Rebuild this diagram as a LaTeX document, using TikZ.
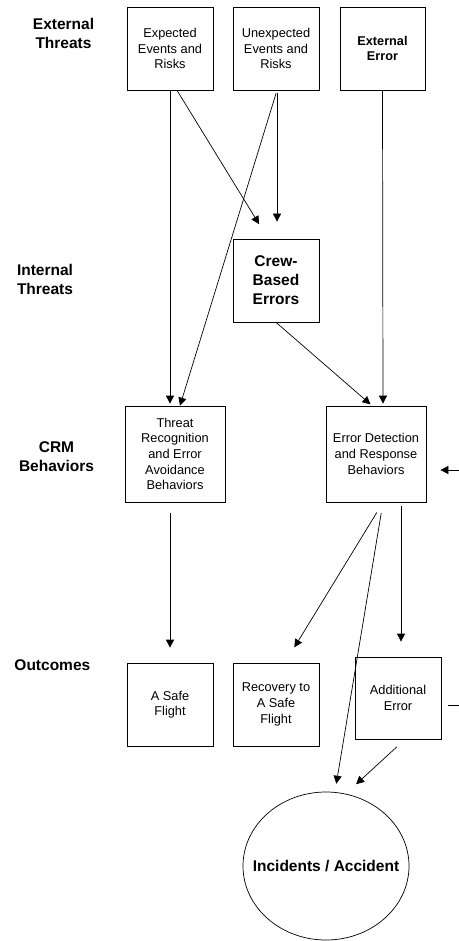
\documentclass[tikz,border=0pt]{standalone}
\usepackage{fontspec}
\setmainfont{Liberation Sans}
\usepackage{tikz}
\usetikzlibrary{calc, arrows.meta, shapes.geometric}

\begin{document}
\begin{tikzpicture}[x=1pt, y=-1pt, >={Triangle[length=8pt,width=8pt]}, line width=.7pt,
		boxnode/.style={draw, align=center, inner sep=0pt, minimum width=86pt, minimum height=83pt, font=\fontsize{12.8}{15.6}\selectfont},
		widebox/.style={boxnode, minimum width=100pt, minimum height=96pt}]
	\useasboundingbox (0,0) rectangle (458,941);
		% row labels
		\foreach \x/\y/\alph/\name in {
			63.5/33/lext/{External\\Threats},
			45/279/lint/{Internal\\Threats},
			56.5/457/lcrm/{CRM\\Behaviors},
			54.5/665/lout/{Outcomes}
		 }{
		 	\node[align=center, font=\fontsize{15.5}{19}\selectfont\bfseries] (\alph) at (\x,\y) {\name};
		 }
		 % boxes
		 \node[boxnode] (exp) at (170,48.5) {Expected\\Events and\\Risks};
		 \node[boxnode] (unexp) at (276,48.5) {Unexpected\\Events and\\Risks};
		 \node[boxnode, minimum width=85pt, font=\fontsize{12.7}{15}\selectfont\bfseries] (exterr) at (382.5,48.5) {External\\Error};
		 \node[boxnode, font=\fontsize{15.5}{19}\selectfont\bfseries] (crew) at (276,280.5) {Crew-\\Based\\Errors};
		 \node[widebox] (threat) at (175,454) {Threat\\Recognition\\and Error\\Avoidance\\Behaviors};
		 \node[widebox] (detect) at (376,454) {Error Detection\\and Response\\Behaviors};
		 \node[boxnode] (safe) at (170,704.5) {A Safe\\Flight};
		 \node[boxnode] (recov) at (276,704.5) {Recovery to\\A Safe\\Flight};
		 \node[boxnode, minimum height=82pt] (addl) at (398,698) {Additional\\Error};
		 \node[draw, ellipse, inner sep=0pt, minimum width=166pt, minimum height=148pt, font=\fontsize{15.5}{19}\selectfont\bfseries] (incid) at (326,866) {\makebox[0pt]{Incidents / Accident}};
		 % threats into crm
		 \draw[->, shorten >=2pt] (exp.south) -- ([xshift=-5pt]threat.north);
		 \draw[->, shorten >=17pt] ([xshift=7pt]exp.south) -- ([xshift=-8pt]crew.north);
		 \draw[->, shorten <=3pt, shorten >=17pt] ([xshift=1pt]unexp.south) -- ([xshift=1pt]crew.north);
		 \draw[->, shorten <=3pt] ([xshift=1pt]unexp.south) -- ([xshift=5pt]threat.north);
		 \draw[->, shorten >=2pt] (exterr.south) -- ([xshift=7pt]detect.north);
		 \draw[->, shorten >=2pt] (crew.south) -- ([xshift=-4pt]detect.north);
		 % crm into outcomes
		 \draw[->, shorten <=11pt, shorten >=15pt] ([xshift=-5pt]threat.south) -- (safe.north);
		 \draw[->, shorten <=12pt, shorten >=18pt] ([xshift=7pt]detect.south) -- ([xshift=9pt]recov.north);
		 \draw[->, shorten <=11pt, shorten >=8pt] ([xshift=7pt]detect.south) -- ([xshift=9pt]incid.north);
		 \draw[->, shorten <=4pt, shorten >=15pt] ([xshift=25pt]detect.south) -- ([xshift=3pt]addl.north);
		 \draw[->, shorten <=11pt, shorten >=11pt] ([xshift=7pt]addl.south) -- ([xshift=22pt]incid.north);
		 % feedback loop
		 \draw[->] ([xshift=7pt,yshift=-7pt]addl.east) -- ++(30,0) |- ([xshift=14pt,yshift=-16pt]detect.east);
\end{tikzpicture}
\end{document}
